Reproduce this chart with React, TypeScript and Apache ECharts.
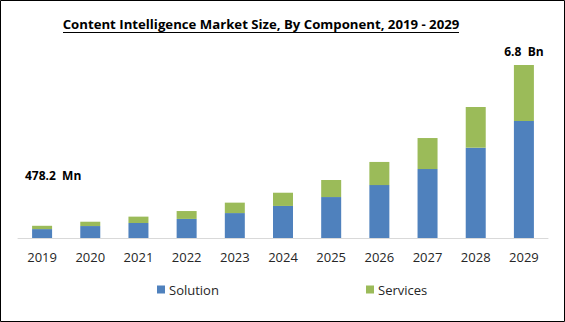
import React, { useEffect, useRef } from "react";
import * as echarts from "echarts";

const years = ["2019", "2020", "2021", "2022", "2023", "2024", "2025", "2026", "2027", "2028", "2029"];
const solution = [0.35, 0.47, 0.59, 0.75, 0.98, 1.26, 1.61, 2.08, 2.71, 3.55, 4.6];
const services = [0.13, 0.17, 0.25, 0.31, 0.41, 0.52, 0.67, 0.91, 1.22, 1.6, 2.2];
const firstLabel = "478.2  Mn";
const lastLabel = "6.8  Bn";
const titleText = "Content Intelligence Market Size, By Component, 2019 - 2029";

export default function App() {
  const ref = useRef<HTMLDivElement>(null);
  useEffect(() => {
    if (!ref.current) return;
    const chart = echarts.init(ref.current, undefined, { renderer: "svg" });
    const font = "'Open Sans', sans-serif";
    chart.setOption({
      animation: false,
      backgroundColor: "#ffffff",
      grid: { left: 18, right: 17, top: 34.5, bottom: 84, containLabel: false },
      legend: [
        {
          data: ["Solution"],
          left: 152,
          top: 278,
          itemWidth: 8,
          itemHeight: 8,
          itemGap: 4,
          icon: "rect",
          textStyle: { fontFamily: font, fontSize: 13, color: "#262626", padding: [0, 0, 0, -1] },
        },
        {
          data: ["Services"],
          left: 361,
          top: 278,
          itemWidth: 8,
          itemHeight: 8,
          itemGap: 4,
          icon: "rect",
          textStyle: { fontFamily: font, fontSize: 13, color: "#262626", padding: [0, 0, 0, -1] },
        },
      ],
      xAxis: {
        type: "category",
        data: years,
        axisLine: { lineStyle: { color: "#d9d9d9", width: 1 } },
        axisTick: { show: false },
        axisLabel: { fontFamily: font, fontSize: 13, color: "#262626", margin: 12 },
      },
      yAxis: {
        type: "value",
        min: 0,
        max: 8,
        show: false,
        splitLine: { show: false },
      },
      series: [
        {
          name: "Solution",
          type: "bar",
          stack: "total",
          barWidth: 20,
          itemStyle: { color: "#4f81bd" },
          data: solution,
        },
        {
          name: "Services",
          type: "bar",
          stack: "total",
          barWidth: 20,
          itemStyle: { color: "#9bbb59" },
          data: services.map((v, i) =>
            i === services.length - 1
              ? {
                  value: v,
                  label: {
                    show: true,
                    position: "top",
                    distance: 8,
                    formatter: lastLabel,
                    fontFamily: font,
                    fontSize: 12,
                    fontWeight: "bold",
                    color: "#000000",
                  },
                }
              : v
          ),
        },
      ],
      graphic: [
        {
          type: "text",
          z: 100,
          style: {
            x: 261,
            y: 24,
            align: "center",
            verticalAlign: "middle",
            text: titleText,
            fontFamily: font,
            fontSize: 13.2,
            fontWeight: "bold",
            fill: "#000000",
          },
        },
        {
          type: "rect",
          z: 100,
          shape: { x: 63, y: 32, width: 396, height: 1 },
          style: { fill: "#000000" },
          silent: true,
        },
        {
          type: "text",
          left: 25,
          top: 169,
          style: {
            text: firstLabel,
            fontFamily: font,
            fontSize: 12,
            fontWeight: "bold",
            fill: "#000000",
          },
        },
        {
          type: "rect",
          shape: { x: 0.5, y: 0.5, width: 564, height: 321 },
          style: { fill: "none", stroke: "#000000", lineWidth: 1 },
          silent: true,
        },
      ],
    });
    return () => chart.dispose();
  }, []);
  return (
    <div
      ref={ref}
      style={{ position: "fixed", left: 0, top: 0, width: 565, height: 322 }}
    />
  );
}
